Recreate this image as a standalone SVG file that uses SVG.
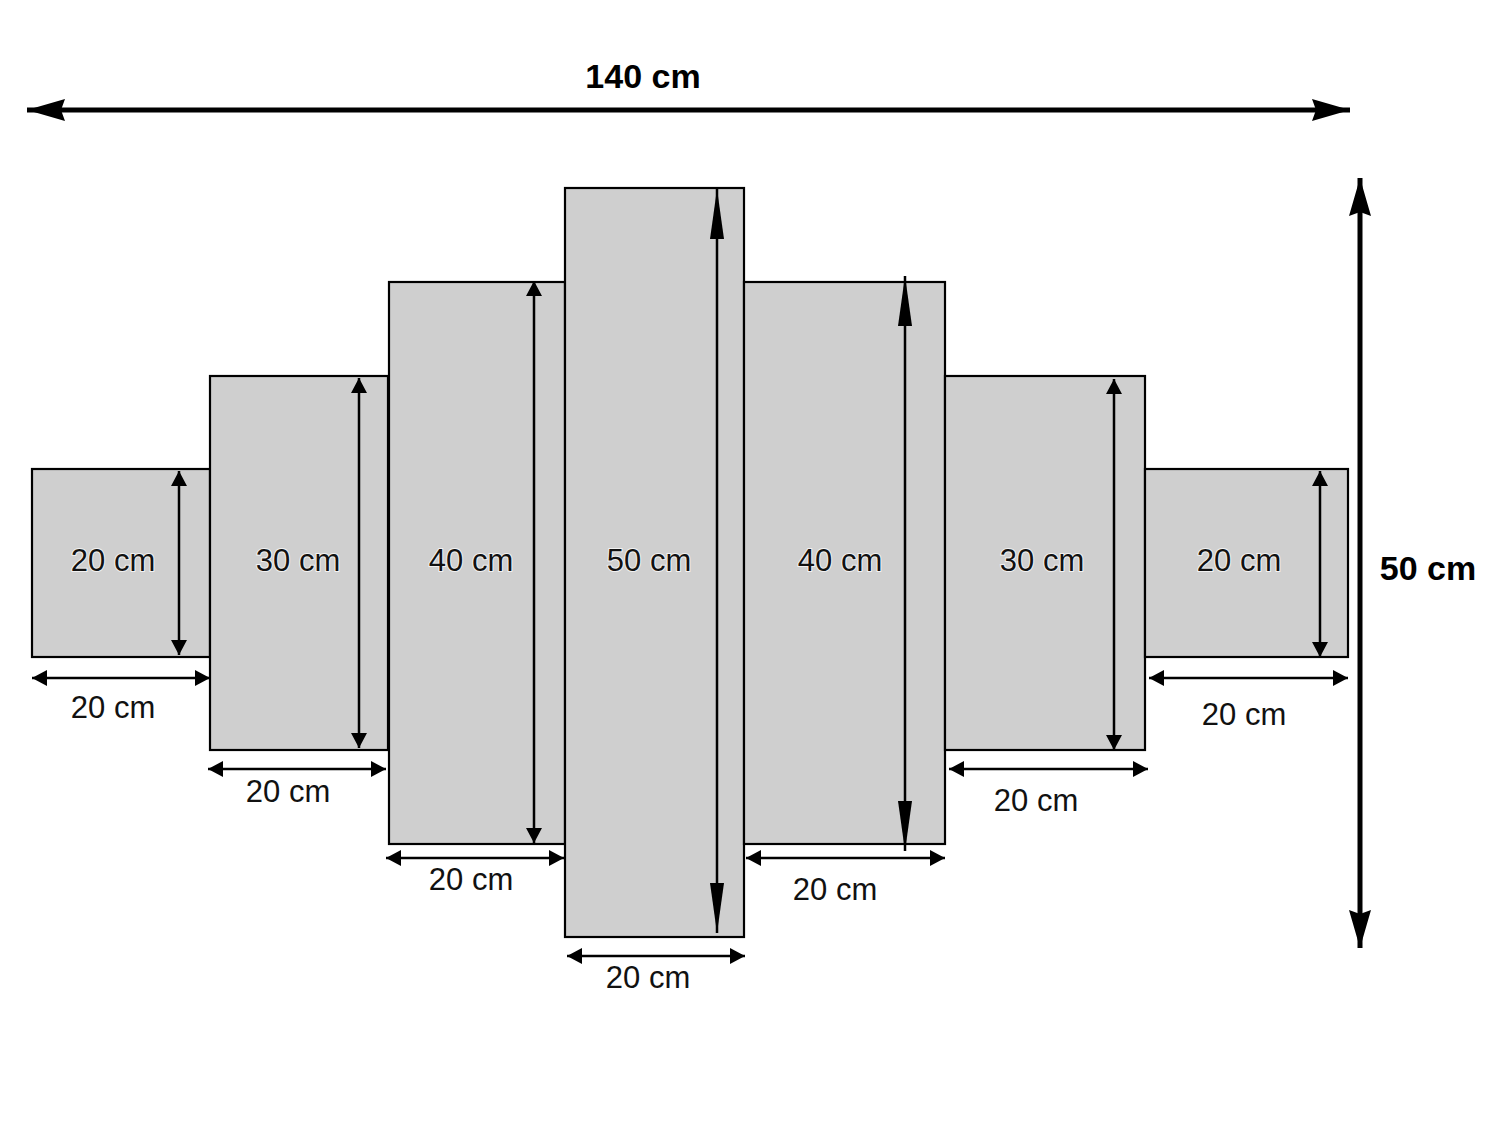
<svg xmlns="http://www.w3.org/2000/svg" width="1500" height="1125" viewBox="0 0 1500 1125">
<style>
.panel{fill:#cfcfcf;stroke:#000;stroke-width:2.2}
.lbl{font-family:"Liberation Sans",Arial,sans-serif;font-size:31px;fill:#111;text-anchor:middle}
.in{stroke:#f2f2f2;stroke-width:2;paint-order:stroke}
.big{font-family:"Liberation Sans",Arial,sans-serif;font-size:34px;font-weight:bold;fill:#000;text-anchor:middle}
.sm{stroke:#000;stroke-width:2.5;fill:none;marker-start:url(#hs);marker-end:url(#hs)}
.lg{stroke:#000;stroke-width:2.5;fill:none;marker-start:url(#hl);marker-end:url(#hl)}
.bg{stroke:#000;stroke-width:5;fill:none;marker-start:url(#hb);marker-end:url(#hb)}
</style>
<defs>
<marker id="hs" markerUnits="userSpaceOnUse" markerWidth="15" markerHeight="16" refX="15" refY="8" orient="auto-start-reverse" viewBox="0 0 15 16"><path d="M0,0 L15,8 L0,16 z" fill="#000"/></marker>
<marker id="hl" markerUnits="userSpaceOnUse" markerWidth="50" markerHeight="16" refX="50" refY="8" orient="auto-start-reverse" viewBox="0 0 50 16"><path d="M0,1 Q0,8 0,15 L50,8 z" fill="#000"/></marker>
<marker id="hb" markerUnits="userSpaceOnUse" markerWidth="38" markerHeight="22" refX="38" refY="11" orient="auto-start-reverse" viewBox="0 0 38 22"><path d="M0,0 L38,11 L0,22 L4,11 z" fill="#000"/></marker>
</defs>
<rect width="1500" height="1125" fill="#fff"/>

<g id="total-width">
<text class="big" x="643" y="88">140 cm</text>
</g>
<g id="total-height">
<text class="big" x="1428" y="580">50 cm</text>
</g>

<g id="panel1">
<rect class="panel" x="32" y="469" width="178" height="188"/>
<text class="lbl in" x="113" y="571">20 cm</text>
<text class="lbl" x="113" y="718">20 cm</text>
</g>
<g id="panel2">
<rect class="panel" x="210" y="376" width="178" height="374"/>
<text class="lbl in" x="298" y="571">30 cm</text>
<text class="lbl" x="288" y="802">20 cm</text>
</g>
<g id="panel3">
<rect class="panel" x="389" y="282" width="176" height="562"/>
<text class="lbl in" x="471" y="571">40 cm</text>
<text class="lbl" x="471" y="890">20 cm</text>
</g>
<g id="panel4">
<rect class="panel" x="565" y="188" width="179" height="749"/>
<text class="lbl in" x="649" y="571">50 cm</text>
<text class="lbl" x="648" y="988">20 cm</text>
</g>
<g id="panel5">
<rect class="panel" x="744" y="282" width="201" height="562"/>
<text class="lbl in" x="840" y="571">40 cm</text>
<text class="lbl" x="835" y="900">20 cm</text>
</g>
<g id="panel6">
<rect class="panel" x="945" y="376" width="200" height="374"/>
<text class="lbl in" x="1042" y="571">30 cm</text>
<text class="lbl" x="1036" y="811">20 cm</text>
</g>
<g id="panel7">
<rect class="panel" x="1145" y="469" width="203" height="188"/>
<text class="lbl in" x="1239" y="571">20 cm</text>
<text class="lbl" x="1244" y="725">20 cm</text>
</g>

<g id="connectors">
<line class="bg" x1="27" y1="110" x2="1350" y2="110"/>
<line class="bg" x1="1360" y1="178" x2="1360" y2="948"/>

<line class="sm" x1="179" y1="471" x2="179" y2="655"/>
<line class="sm" x1="359" y1="378" x2="359" y2="748"/>
<line class="sm" x1="534" y1="281" x2="534" y2="843"/>
<line class="lg" x1="717" y1="189" x2="717" y2="933"/>
<line class="lg" x1="905" y1="276" x2="905" y2="851"/>
<line class="sm" x1="1114" y1="379" x2="1114" y2="750"/>
<line class="sm" x1="1320" y1="471" x2="1320" y2="657"/>

<line class="sm" x1="32" y1="678" x2="210" y2="678"/>
<line class="sm" x1="208" y1="769" x2="386" y2="769"/>
<line class="sm" x1="386" y1="858" x2="564" y2="858"/>
<line class="sm" x1="567" y1="956" x2="745" y2="956"/>
<line class="sm" x1="746" y1="858" x2="945" y2="858"/>
<line class="sm" x1="949" y1="769" x2="1148" y2="769"/>
<line class="sm" x1="1149" y1="678" x2="1348" y2="678"/>
</g>
</svg>
